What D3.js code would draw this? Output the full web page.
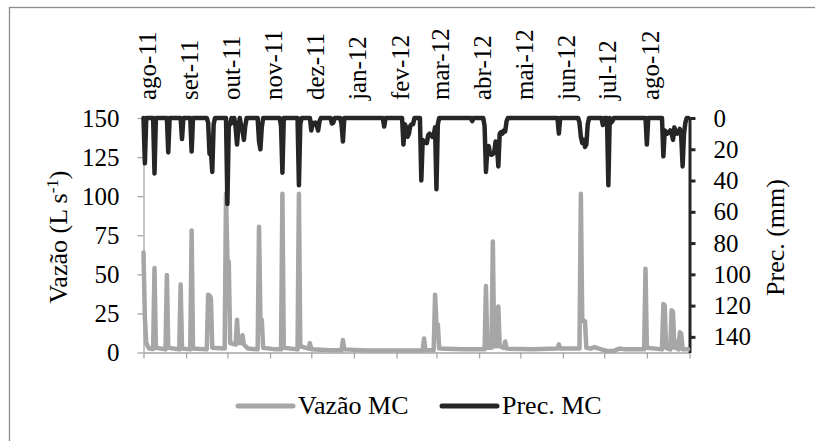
<!DOCTYPE html>
<html>
<head>
<meta charset="utf-8">
<script src="https://cdn.jsdelivr.net/npm/d3@7"></script>
<style>
  body { margin: 0; background: #fff; }
  svg { display: block; }
</style>
</head>
<body>
<svg id="chart" width="815" height="441"></svg>
<script>
// Month labels shown along the top axis (one per month start)
const monthLabels = ["ago-11", "set-11", "out-11", "nov-11", "dez-11", "jan-12", "fev-12",
                     "mar-12", "abr-12", "mai-12", "jun-12", "jul-12", "ago-12"];
const flowTicks = [0, 25, 50, 75, 100, 125, 150];
const precTicks = [0, 20, 40, 60, 80, 100, 120, 140];

// Vazão MC (L s-1): vertices of the daily discharge line
const flowDates = [
  "2011-08-01","2011-08-02","2011-08-03","2011-08-05","2011-08-08","2011-08-09","2011-08-10",
  "2011-08-17","2011-08-18","2011-08-19","2011-08-27","2011-08-28","2011-08-29",
  "2011-09-04","2011-09-05","2011-09-06","2011-09-16","2011-09-17","2011-09-18","2011-09-19","2011-09-20",
  "2011-09-29","2011-09-30","2011-10-01","2011-10-02","2011-10-03","2011-10-07","2011-10-08","2011-10-09",
  "2011-10-11","2011-10-12","2011-10-13","2011-10-16","2011-10-23","2011-10-24","2011-10-25","2011-10-26","2011-10-27",
  "2011-11-05","2011-11-09","2011-11-10","2011-11-11","2011-11-21","2011-11-22","2011-11-23",
  "2011-11-29","2011-11-30","2011-12-01","2011-12-15","2011-12-23","2011-12-24","2011-12-25",
  "2012-01-10","2012-02-01","2012-02-20","2012-02-21","2012-02-22","2012-02-28","2012-02-29",
  "2012-03-01","2012-03-02","2012-03-03","2012-03-20","2012-04-05","2012-04-06","2012-04-07",
  "2012-04-10","2012-04-11","2012-04-12","2012-04-14","2012-04-15","2012-04-16","2012-04-19",
  "2012-04-20","2012-04-21","2012-05-10","2012-05-28","2012-05-29","2012-05-30",
  "2012-06-13","2012-06-14","2012-06-15","2012-06-16","2012-06-17","2012-06-18","2012-06-21",
  "2012-06-24","2012-06-27","2012-07-03","2012-07-08","2012-07-12","2012-07-16","2012-07-30",
  "2012-07-31","2012-08-01","2012-08-12","2012-08-13","2012-08-14","2012-08-15","2012-08-18",
  "2012-08-19","2012-08-20","2012-08-21","2012-08-22","2012-08-23","2012-08-24","2012-08-25",
  "2012-08-26","2012-08-27","2012-08-31"
];
const flowValues = [
  64, 22, 6, 2.5, 2.2, 54, 3,
  2, 49.5, 3, 2, 43.5, 2.5,
  2, 78, 2.5, 2, 37, 36.5, 35, 3,
  2.5, 101.5, 60, 58, 6, 5, 21, 6,
  6, 11, 5, 2.5, 2, 80.5, 22, 21, 3,
  2, 2, 101.5, 3, 2, 101.5, 4,
  2.5, 6, 2, 1.5, 1.5, 8, 2,
  1.3, 1.2, 1.3, 9, 1.5, 1.5, 37,
  18.5, 18, 2.5, 2, 2, 42.5, 3,
  3, 71, 4, 4, 29.5, 4, 3,
  7, 2.5, 2, 2.5, 5.2, 2.5,
  2.5, 101.5, 22, 20, 20, 3, 2.5,
  3.5, 2.5, 1, 1, 2.5, 2, 2,
  53.5, 3, 2, 31, 30, 3, 2,
  27, 26, 3, 7, 2.5, 2, 13,
  12, 2, 2
];

// Prec. MC (mm): days with rainfall; every other day of the record had none
const rainDates = [
  "2011-08-02","2011-08-09","2011-08-19","2011-08-29","2011-09-05","2011-09-17","2011-09-18",
  "2011-09-19","2011-09-20","2011-09-21","2011-10-01","2011-10-02","2011-10-03","2011-10-05",
  "2011-10-07","2011-10-08","2011-10-09","2011-10-11","2011-10-12","2011-10-13","2011-10-14",
  "2011-10-24","2011-10-25","2011-10-26","2011-11-09","2011-11-10","2011-11-22","2011-11-23",
  "2011-12-01","2011-12-02","2011-12-03","2011-12-04","2011-12-05","2011-12-06","2011-12-07",
  "2011-12-16","2011-12-17","2011-12-23","2011-12-24","2012-01-23","2012-02-06","2012-02-07",
  "2012-02-08","2012-02-09","2012-02-10","2012-02-11","2012-02-12","2012-02-13","2012-02-19",
  "2012-02-20","2012-02-21","2012-02-22","2012-02-23","2012-02-24","2012-02-25","2012-02-26",
  "2012-02-27","2012-02-28","2012-02-29","2012-03-01","2012-03-02","2012-03-27","2012-04-05",
  "2012-04-06","2012-04-07","2012-04-08","2012-04-09","2012-04-10","2012-04-11","2012-04-12",
  "2012-04-13","2012-04-14","2012-04-15","2012-04-16","2012-04-17","2012-04-18","2012-04-19",
  "2012-04-20","2012-04-21","2012-05-29","2012-06-13","2012-06-14","2012-06-15","2012-06-16",
  "2012-06-17","2012-06-18","2012-06-19","2012-06-30","2012-07-04","2012-07-06","2012-07-07",
  "2012-08-01","2012-08-13","2012-08-14","2012-08-15","2012-08-16","2012-08-17","2012-08-18",
  "2012-08-19","2012-08-20","2012-08-21","2012-08-22","2012-08-23","2012-08-24","2012-08-25",
  "2012-08-26","2012-08-27","2012-08-28","2012-08-29"
];
const rainValues = [
  29, 35.5, 22, 13.5, 21.5, 3, 23,
  21, 34.5, 4, 55, 5, 4, 3,
  6, 17, 6, 5, 8, 14, 5,
  15, 20, 6, 5, 35, 43, 4,
  8, 3, 4, 3, 5, 8, 2,
  3.5, 3, 4, 15, 5.5, 17, 4,
  6, 12, 10, 5, 4, 4, 40,
  14, 16, 15, 16, 11, 10, 11,
  12, 11, 6, 45.5, 4, 2, 5,
  34.5, 20, 18, 23, 23.5, 23, 22,
  15, 18, 31, 10, 9, 10, 8,
  8.5, 2, 10, 3, 12, 16, 14,
  18.5, 17, 4, 4.5, 43, 3, 2,
  17, 24.5, 8, 9, 10, 9, 8,
  10, 14, 6, 9, 10, 9, 7,
  12, 31, 10, 3
];

const parse = d3.utcParse("%Y-%m-%d");
const fmt = d3.utcFormat("%Y-%m-%d");
const startDate = parse("2011-08-01");
const endDate = parse("2012-09-01");

const SERIF = "'Liberation Serif', 'Times New Roman', Tinos, 'DejaVu Serif', serif";
const FONT = 25;

const svg = d3.select("#chart").attr("font-family", SERIF);

const x = d3.scaleUtc().domain([startDate, endDate]).range([143.5, 689.5]);
const yFlow = d3.scaleLinear().domain([0, 150]).range([352.5, 118]);
const yPrec = d3.scaleLinear().domain([0, 150]).range([118, 352.5]);

// outer frame
svg.append("rect")
  .attr("x", 9.5).attr("y", 7.5).attr("width", 840).attr("height", 480)
  .attr("fill", "none").attr("stroke", "#8c8c8c").attr("stroke-width", 1.3);

const monthStarts = d3.utcMonth.range(startDate, d3.utcDay.offset(endDate, 1));

function styleText(sel) {
  sel.attr("font-size", FONT).attr("font-family", SERIF).attr("fill", "#000");
}

// bottom axis: ticks only
const bottomAxis = svg.append("g")
  .attr("transform", `translate(0,${yFlow(0)})`)
  .call(d3.axisBottom(x).tickValues(monthStarts).tickFormat("").tickSize(6).tickSizeOuter(0));
bottomAxis.selectAll("path, line").attr("stroke", "#a6a6a6").attr("stroke-width", 1.3);

// left axis (discharge)
const leftAxis = svg.append("g")
  .attr("transform", `translate(${x.range()[0]},0)`)
  .call(d3.axisLeft(yFlow).tickValues(flowTicks).tickSize(6).tickSizeOuter(0).tickPadding(18));
leftAxis.attr("font-family", SERIF);
leftAxis.selectAll("path, line").attr("stroke", "#a6a6a6").attr("stroke-width", 1.3);
leftAxis.selectAll("text").call(styleText);

// right axis (precipitation, inverted)
const rightAxis = svg.append("g")
  .attr("transform", `translate(${x.range()[1]},0)`)
  .call(d3.axisRight(yPrec).tickValues(precTicks).tickSize(6).tickSizeOuter(0).tickPadding(18));
rightAxis.attr("font-family", SERIF);
rightAxis.select(".domain").attr("stroke", "#262626").attr("stroke-width", 3);
rightAxis.selectAll("line").attr("stroke", "#262626").attr("stroke-width", 3);
rightAxis.selectAll("text").call(styleText);

// top month labels
const topAxis = svg.append("g")
  .attr("transform", "translate(0,100)")
  .call(d3.axisTop(x).tickValues(monthStarts.slice(0, monthLabels.length))
        .tickFormat((d, i) => monthLabels[i]).tickSize(0).tickPadding(0));
topAxis.attr("font-family", SERIF);
topAxis.select(".domain").remove();
topAxis.selectAll("text")
  .call(styleText)
  .attr("text-anchor", "start")
  .attr("x", 0).attr("y", 0).attr("dy", "0.35em")
  .attr("transform", "translate(3,0) rotate(-90)");

// discharge line
const flowData = flowDates.map((d, i) => ({ date: parse(d), value: flowValues[i] }));
svg.append("path")
  .datum(flowData)
  .attr("fill", "none")
  .attr("stroke", "#a6a6a6")
  .attr("stroke-width", 4.5)
  .attr("stroke-linejoin", "round")
  .attr("stroke-linecap", "round")
  .attr("d", d3.line().x(d => x(d.date)).y(d => yFlow(d.value)));

// daily precipitation line
const rainByDay = new Map(rainDates.map((d, i) => [d, rainValues[i]]));
const days = d3.utcDay.range(startDate, endDate);
const precData = days.map(d => ({ date: d, value: rainByDay.has(fmt(d)) ? rainByDay.get(fmt(d)) : 0 }));
svg.append("path")
  .datum(precData)
  .attr("fill", "none")
  .attr("stroke", "#262626")
  .attr("stroke-width", 4.5)
  .attr("stroke-linejoin", "round")
  .attr("stroke-linecap", "round")
  .attr("d", d3.line().x(d => x(d.date)).y(d => yPrec(d.value)));

// axis titles
const yTitle = svg.append("text")
  .attr("transform", "translate(67,237) rotate(-90)")
  .attr("text-anchor", "middle")
  .attr("font-family", SERIF)
  .attr("font-size", 26);
yTitle.append("tspan").text("Vazão (L s");
yTitle.append("tspan").attr("font-size", 17).attr("baseline-shift", "super").text("-1");
yTitle.append("tspan").text(")");

svg.append("text")
  .attr("transform", "translate(784,237.5) rotate(-90)")
  .attr("text-anchor", "middle")
  .attr("font-family", SERIF)
  .attr("font-size", 26)
  .text("Prec. (mm)");

// legend
const legendItems = [
  { label: "Vazão MC", color: "#a6a6a6", x0: 238 },
  { label: "Prec. MC", color: "#262626", x0: 442 }
];
const legend = svg.append("g");
legendItems.forEach(item => {
  legend.append("line")
    .attr("x1", item.x0).attr("x2", item.x0 + 55)
    .attr("y1", 406).attr("y2", 406)
    .attr("stroke", item.color).attr("stroke-width", 5)
    .attr("stroke-linecap", "round");
  legend.append("text")
    .attr("x", item.x0 + 60).attr("y", 413.5)
    .attr("font-family", SERIF)
    .attr("font-size", 26)
    .text(item.label);
});
</script>
</body>
</html>
